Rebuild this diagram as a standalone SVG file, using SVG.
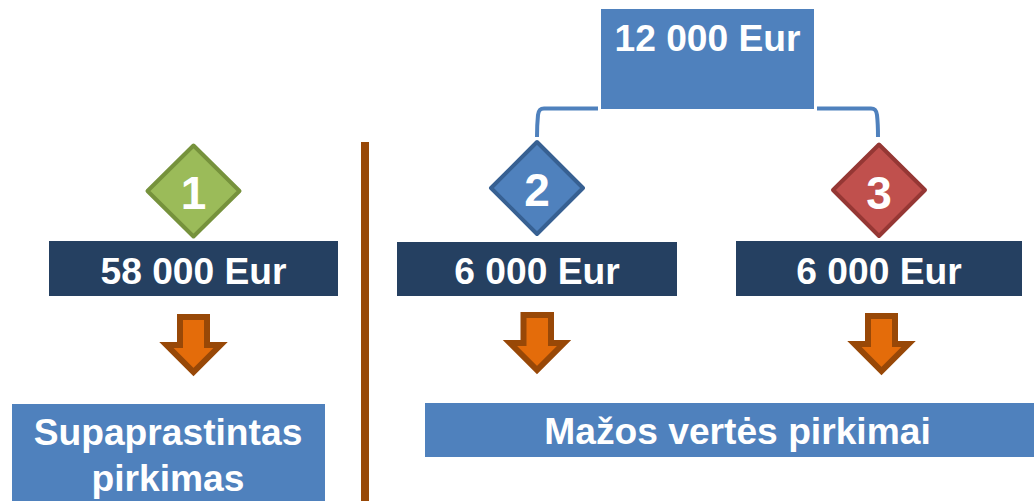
<svg xmlns="http://www.w3.org/2000/svg" width="1034" height="501" viewBox="0 0 1034 501">
<style>
.t{font-family:"Liberation Sans",Arial,sans-serif;font-weight:700;fill:#fff;text-anchor:middle}
.l{font-size:37.200px}
.n{font-size:46px}
.blue{fill:#4f81bd}
.navy{fill:#254061}
.arrow{fill:#e46c0a;stroke:#984807;stroke-width:6;stroke-miterlimit:10}
.conn{fill:none;stroke:#4f81bd;stroke-width:4}
</style>
<rect width="1034" height="501" fill="#fff"/>
<g id="connectors">
<path class="conn" d="M598 108.500H544C539.500 108.500 538.500 111 538 115C537.300 122 537 129 537 137"/>
<path class="conn" d="M817 108.500H871C875.500 108.500 876.500 111 877 115C877.800 122 878 129 878 137"/>
</g>
<rect id="divider" x="361" y="142" width="8" height="359" fill="#984807"/>
<g id="top"><rect class="blue" x="601" y="9" width="213" height="100"/><text class="t l" x="707.500" y="51">12 000 Eur</text></g>
<g id="d1"><path d="M193.500 145.500L239.500 191L193.500 236.500L147.500 191Z" fill="#9bbb59" stroke="#76923c" stroke-width="4" stroke-linejoin="round"/><text class="t n" x="193.500" y="209">1</text></g>
<g id="d2"><path d="M537 142L583 188L537 234L491 188Z" class="blue" stroke="#376092" stroke-width="4" stroke-linejoin="round"/><text class="t n" x="537" y="206">2</text></g>
<g id="d3"><path d="M879 144.500L925 190L879 236L833 190Z" fill="#c0504d" stroke="#953734" stroke-width="4" stroke-linejoin="round"/><text class="t n" x="879" y="209">3</text></g>
<g id="b1"><rect class="navy" x="49" y="241" width="289" height="55"/><text class="t l" x="193.500" y="284">58 000 Eur</text></g>
<g id="b2"><rect class="navy" x="397" y="242" width="280" height="54"/><text class="t l" x="537" y="284">6 000 Eur</text></g>
<g id="b3"><rect class="navy" x="736" y="241" width="286" height="55"/><text class="t l" x="879" y="284">6 000 Eur</text></g>
<g id="a1"><path class="arrow" d="M180 317H207V345H220.500L193.500 372L166.500 345H180Z"/></g>
<g id="a2"><path class="arrow" d="M523.500 315H551V343H564L537 370L510 343H523.500Z"/></g>
<g id="a3"><path class="arrow" d="M868 316H895V344H908.500L881.500 371L854.500 344H868Z"/></g>
<g id="s"><rect class="blue" x="12" y="404" width="313" height="97"/><text class="t l" x="168" y="445">Supaprastintas</text><text class="t l" x="168" y="491">pirkimas</text></g>
<g id="m"><rect class="blue" x="425" y="403" width="609" height="54"/><text class="t l" x="737.500" y="444">Mažos vertės pirkimai</text></g>
</svg>
